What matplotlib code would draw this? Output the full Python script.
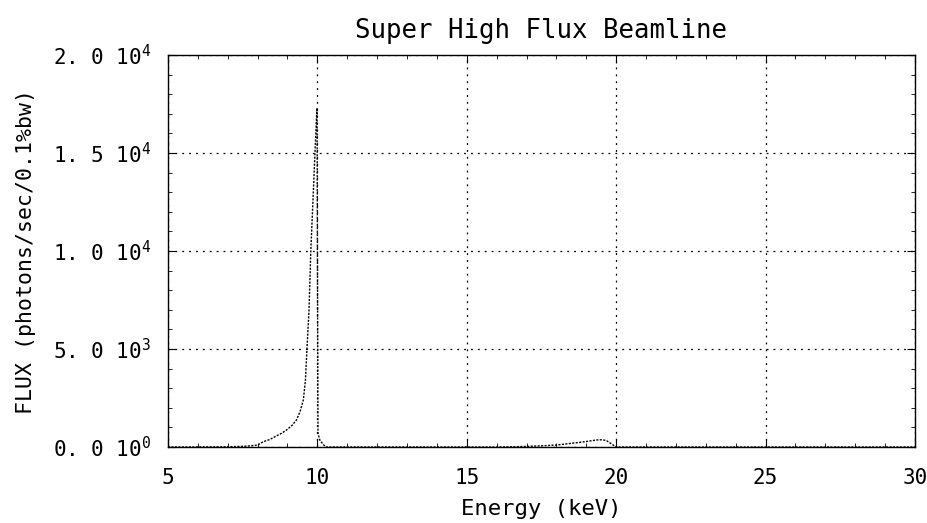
import matplotlib
matplotlib.use("Agg")
import matplotlib.pyplot as plt
from matplotlib.ticker import MultipleLocator

plt.rcParams['font.family'] = ['DejaVu Sans Mono', 'DejaVu Sans']
plt.rcParams['mathtext.fontset'] = 'custom'
plt.rcParams['mathtext.rm'] = 'DejaVu Sans Mono'
plt.rcParams['mathtext.it'] = 'DejaVu Sans Mono'

energy = [5.0, 7.0, 7.6, 8.0, 8.19, 8.4, 8.58, 8.8, 8.97, 9.15, 9.30, 9.42, 9.53, 9.60, 9.65,
          9.72, 9.78, 9.85, 9.92, 9.97, 9.99, 10.0, 10.02, 10.08, 10.2, 10.3, 12.0, 14.0, 16.0,
          16.5, 17.0, 17.5, 18.0, 18.68, 19.0, 19.35, 19.55, 19.68, 19.9, 20.0, 22.0, 25.0, 30.0]
flux = [0, 10, 40, 100, 270, 380, 525, 700, 870, 1100, 1380, 1800, 2400, 3400, 4950,
        7000, 10000, 12500, 15000, 16800, 17300, 11000, 700, 360, 120, 0, 0, 0, 0,
        10, 30, 60, 100, 220, 280, 360, 370, 320, 100, 0, 0, 0, 0]

yticks = [0, 5000, 10000, 15000, 20000]
ytick_labels = ["0. 0 10$^{0}$", "5. 0 10$^{3}$", "1. 0 10$^{4}$", "1. 5 10$^{4}$", "2. 0 10$^{4}$"]
xticks = [5, 10, 15, 20, 25, 30]

fig = plt.figure(figsize=(9.28, 5.23), dpi=100)
ax = fig.add_axes([0.181, 0.1453, 0.805, 0.7495])
ax.plot(energy, flux, color='black', linewidth=1.0, linestyle=(0, (1.5, 1)))
ax.set_xlim(5, 30)
ax.set_ylim(0, 20000)
ax.set_xticks(xticks)
ax.set_xticklabels([str(t) for t in xticks])
ax.set_yticks(yticks)
ax.set_yticklabels(ytick_labels)
ax.xaxis.set_minor_locator(MultipleLocator(1))
ax.yaxis.set_minor_locator(MultipleLocator(1000))
ax.tick_params(which='both', direction='in', top=True, right=True, colors='black')
ax.tick_params(which='major', length=6, labelsize=15)
ax.tick_params(axis='y', which='major', pad=12)
ax.tick_params(axis='x', which='major', pad=15)
ax.tick_params(which='minor', length=3)
ax.grid(True, which='major', color='black', linestyle=(0, (1.5, 4)), linewidth=0.9)
for s in ax.spines.values():
    s.set_linewidth(1.0)
ax.set_title("Super High Flux Beamline", fontsize=18.5, pad=12)
ax.set_xlabel("Energy (keV)", fontsize=16, labelpad=8)
ax.set_ylabel("FLUX (photons/sec/0.1%bw)", fontsize=15.5, labelpad=12)
fig.savefig("out.png", dpi=100)
